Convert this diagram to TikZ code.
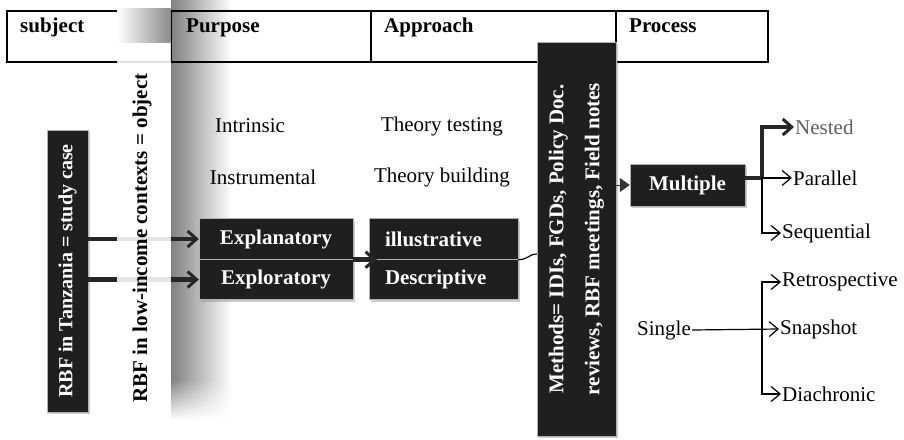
\documentclass[tikz,border=0pt]{standalone}
\usepackage{fontspec}
\setmainfont{Liberation Serif}
\usetikzlibrary{arrows.meta,shadows,fadings}

\begin{document}
\begin{tikzpicture}[
x=1pt,y=-1pt,
every node/.style={font=\fontsize{21}{25}\selectfont, inner sep=1pt},
darkbox/.style={
draw=gray!60,
fill=black!88,
text=white,
font=\fontsize{21}{25}\selectfont\bfseries,
inner sep=0pt,
drop shadow={shadow xshift=2pt,shadow yshift=-2pt,opacity=.4}
},
headtext/.style={anchor=base west, font=\fontsize{21}{25}\selectfont\bfseries},
bigarrow/.style={-{Straight Barb[length=9pt,width=16pt,line width=3pt]}, line width=4.5pt, black!85, line join=miter},
branch/.style={-{Straight Barb[length=9pt,width=15pt]}, line width=1.2pt, line join=miter}
]
\useasboundingbox (0,0) rectangle (904,439);
% shadow band of the object column
\shade[left color=black!50,right color=white] (171,0) rectangle (232,380);
\shade[left color=black!50,right color=white,path fading=south] (171,380) rectangle (232,420);
% header table
\draw[line width=1.5pt] (7,11) rectangle (768,62);
\foreach \x in {171,371,616}
  \draw[line width=1.5pt] (\x,11) -- (\x,62);
\node[headtext] (hsubject) at (19,32) {subject};
\node[headtext] (hpurpose) at (185,32) {Purpose};
\node[headtext] (happroach) at (383,32) {Approach};
\node[headtext] (hprocess) at (628,32) {Process};
% boxes
\node[darkbox,rotate=90,minimum width=282,minimum height=41,font=\fontsize{20}{24}\selectfont\bfseries] (study) at (67.5,271)
{RBF in Tanzania = study case};
\node[darkbox,minimum width=154,minimum height=41] (expl) at (276,239) {Explanatory};
\node[darkbox,minimum width=154,minimum height=40] (explo) at (276,279.5) {Exploratory};
\node[darkbox,text width=117,inner xsep=16,align=left,minimum height=41] (illus) at (443.5,239) {illustrative};
\node[darkbox,text width=117,inner xsep=16,align=left,minimum height=40] (desc) at (443.5,279.5) {Descriptive};
\node[darkbox,rotate=90,minimum width=394,minimum height=79,align=center,font=\fontsize{21}{36}\selectfont\bfseries] (methods) at (576.5,239)
{Methods= IDIs, FGDs, Policy Doc.\\reviews, RBF meetings, Field notes};
\node[darkbox,minimum width=115,minimum height=42] (multiple) at (687.5,185) {Multiple};
% plain labels
\node (intrinsic) at (250,126) {Intrinsic};
\node (instrumental) at (263,177) {Instrumental};
\node (ttesting) at (442,126) {Theory testing};
\node (tbuilding) at (442,177) {Theory building};
\node[anchor=west,text=gray!75!black] (nested) at (794,127) {Nested};
\node[anchor=west] (parallel) at (792,178) {Parallel};
\node[anchor=west] (sequential) at (781,233) {Sequential};
\node (single) at (664,330) {Single};
\node[anchor=west] (retro) at (781,282) {Retrospective};
\node[anchor=west] (snapshot) at (779,329) {Snapshot};
\node[anchor=west] (diachronic) at (781,394) {Diachronic};
\coordinate (mbr) at (762,178);
\coordinate (sbr) at (762,329);
% connectors
\draw[bigarrow] (study.south |- expl.west) -- (expl.west);
\draw[bigarrow] (study.south |- explo.west) -- (explo.west);
\draw[bigarrow] (expl.south east) -- ([xshift=8pt]illus.south west);
\draw[line width=1.2pt] (illus.south east) .. controls +(10,0) and +(-8,0) .. ([yshift=-15pt]methods.north);
\draw[-{Triangle[length=10pt,width=14pt]},line width=1pt,black!80] (methods.south |- multiple.west) -- (multiple.west);
\draw[line width=4pt,black!85] (multiple.east |- mbr) -- (mbr);
\draw[bigarrow] (mbr) -- (mbr |- nested.west) -- (nested.west);
\draw[branch] (mbr) -- (parallel.west);
\draw[branch] (mbr) -- (mbr |- sequential.west) -- (sequential.west);
\draw[branch] (single.east) -- (snapshot.west);
\draw[branch] (sbr) -- (sbr |- retro.west) -- (retro.west);
\draw[branch] (sbr) -- (sbr |- diachronic.west) -- (diachronic.west);
% object column over the arrows
\fill[white,opacity=.88] (117,42) rectangle (170.5,420);
\shade[left color=white,right color=black!45] (117,8) rectangle (170.5,42);
\node[rotate=90,font=\fontsize{21}{25}\selectfont\bfseries] (object) at (142,238)
{RBF in low-income contexts = object};
\end{tikzpicture}
\end{document}
